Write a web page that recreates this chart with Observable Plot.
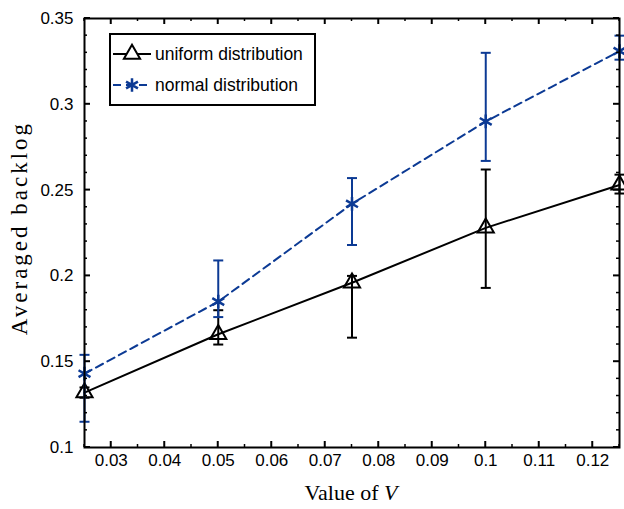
<!DOCTYPE html>
<html><head><meta charset="utf-8">
<script src="https://cdn.jsdelivr.net/npm/d3@7"></script>
<script src="https://cdn.jsdelivr.net/npm/@observablehq/plot@0.6"></script>
<style>
body{margin:0;background:#fff;}
#wrap{position:relative;width:624px;height:509px;overflow:hidden;background:#fff;}
#wrap svg{display:block;}
#overlay{position:absolute;left:0;top:0;pointer-events:none;}
</style></head><body><div id="wrap"></div>
<script>
// ---- data ----
const V = [0.025, 0.05, 0.075, 0.1, 0.125];
const uniformMean = [0.132, 0.166, 0.196, 0.228, 0.253];
const uniformLow  = [0.129, 0.160, 0.164, 0.193, 0.248];
const uniformHigh = [0.135, 0.180, 0.200, 0.262, 0.259];
const normalMean  = [0.143, 0.185, 0.242, 0.290, 0.331];
const normalLow   = [0.115, 0.176, 0.218, 0.267, 0.326];
const normalHigh  = [0.154, 0.209, 0.257, 0.330, 0.340];
const seriesNames = ["uniform distribution", "normal distribution"];
const xTicks = [0.03, 0.04, 0.05, 0.06, 0.07, 0.08, 0.09, 0.1, 0.11, 0.12];
const yTicks = [0.1, 0.15, 0.2, 0.25, 0.3, 0.35];
const xMinor = [0.025, 0.035, 0.045, 0.055, 0.065, 0.075, 0.085, 0.095, 0.105, 0.115, 0.125];
const yMinor = [0.11, 0.12, 0.13, 0.14, 0.16, 0.17, 0.18, 0.19, 0.21, 0.22, 0.23, 0.24,
                0.26, 0.27, 0.28, 0.29, 0.31, 0.32, 0.33, 0.34];
const xTitle = "Value of ";
const xTitleVar = "V";
const yTitle = "Averaged backlog";

const BLUE = "#0c3a94";
const uniformRows = V.map((v, i) => ({V: v, mean: uniformMean[i], low: uniformLow[i], high: uniformHigh[i]}));
const normalRows  = V.map((v, i) => ({V: v, mean: normalMean[i], low: normalLow[i], high: normalHigh[i]}));

const W = 624, H = 509, ML = 84, MR = 5, MT = 18, MB = 62;
const X_DOMAIN = [0.025, 0.125], Y_DOMAIN = [0.1, 0.35];

const cap = {draw(ctx, size) { const r = Math.sqrt(size / Math.PI); ctx.moveTo(-r, 0); ctx.lineTo(r, 0); }};

const plot = Plot.plot({
  width: W, height: H,
  marginLeft: ML, marginRight: MR, marginTop: MT, marginBottom: MB,
  x: {domain: X_DOMAIN},
  y: {domain: Y_DOMAIN},
  style: {fontFamily: '"Liberation Sans", Arial, sans-serif', fontSize: "17px", color: "black"},
  marks: [
    // tick labels
    Plot.axisX(xTicks, {anchor: "bottom", tickSize: 0, tickPadding: 6, label: null, tickFormat: d => String(d)}),
    Plot.axisY(yTicks, {anchor: "left", tickSize: 0, tickPadding: 11, label: null, tickFormat: d => String(d)}),
    // uniform
    Plot.line(uniformRows, {x: "V", y: "mean", stroke: "black", strokeWidth: 2}),
    Plot.ruleX(uniformRows, {x: "V", y1: "low", y2: "high", stroke: "black", strokeWidth: 2}),
    Plot.dot(uniformRows, {x: "V", y: "low", symbol: cap, r: 5, stroke: "black", strokeWidth: 2}),
    Plot.dot(uniformRows, {x: "V", y: "high", symbol: cap, r: 5, stroke: "black", strokeWidth: 2}),
    Plot.dot(uniformRows, {x: "V", y: "mean", symbol: "triangle", r: 6, stroke: "black", fill: "none", strokeWidth: 2}),
    // normal
    Plot.line(normalRows, {x: "V", y: "mean", stroke: BLUE, strokeWidth: 2, strokeDasharray: "8,5"}),
    Plot.ruleX(normalRows, {x: "V", y1: "low", y2: "high", stroke: BLUE, strokeWidth: 2}),
    Plot.dot(normalRows, {x: "V", y: "low", symbol: cap, r: 5, stroke: BLUE, strokeWidth: 2}),
    Plot.dot(normalRows, {x: "V", y: "high", symbol: cap, r: 5, stroke: BLUE, strokeWidth: 2}),
    Plot.dot(normalRows, {x: "V", y: "mean", symbol: "asterisk", r: 6.5, stroke: BLUE, strokeWidth: 2.5}),
    // box
    Plot.frame({stroke: "black", strokeWidth: 2})
  ]
});
const wrap = document.getElementById("wrap");
wrap.appendChild(plot);

// Plot's own scales, for the inward box ticks drawn on the overlay
let sx, sy;
try {
  const px = plot.scale("x"), py = plot.scale("y");
  sx = v => px.apply(v); sy = v => py.apply(v);
} catch (e) {
  sx = d3.scaleLinear().domain(X_DOMAIN).range([ML, W - MR]);
  sy = d3.scaleLinear().domain(Y_DOMAIN).range([H - MB, MT]);
}

const ov = d3.select(wrap).append("svg").attr("id", "overlay").attr("width", W).attr("height", H);

// inward ticks on all four sides (MATLAB box style)
const tg = ov.append("g").attr("stroke", "black");
function xTickMarks(ticks, len, sw) {
  ticks.forEach(v => {
    const x = sx(v);
    tg.append("line").attr("x1", x).attr("x2", x).attr("y1", H - MB).attr("y2", H - MB - len).attr("stroke-width", sw);
    tg.append("line").attr("x1", x).attr("x2", x).attr("y1", MT).attr("y2", MT + len).attr("stroke-width", sw);
  });
}
function yTickMarks(ticks, len, sw) {
  ticks.forEach(v => {
    const y = sy(v);
    tg.append("line").attr("y1", y).attr("y2", y).attr("x1", ML).attr("x2", ML + len).attr("stroke-width", sw);
    tg.append("line").attr("y1", y).attr("y2", y).attr("x1", W - MR).attr("x2", W - MR - len).attr("stroke-width", sw);
  });
}
xTickMarks(xMinor, 3, 1.5);
yTickMarks(yMinor, 3, 1.5);
xTickMarks(xTicks, 6, 2);
yTickMarks(yTicks, 6, 2);

// axis titles
const xt = ov.append("text").attr("x", 351).attr("y", 500).attr("text-anchor", "middle")
  .attr("font-family", '"Liberation Serif", "DejaVu Serif", serif').attr("font-size", 22);
xt.append("tspan").text(xTitle);
xt.append("tspan").attr("font-style", "italic").text(xTitleVar);
ov.append("text").attr("transform", "translate(27,228) rotate(-90)").attr("text-anchor", "middle")
  .attr("font-family", '"Liberation Serif", "DejaVu Serif", serif').attr("font-size", 23)
  .attr("letter-spacing", 3).text(yTitle);

// legend
const lg = ov.append("g");
lg.append("rect").attr("x", 110).attr("y", 34).attr("width", 205).attr("height", 71)
  .attr("fill", "white").attr("stroke", "black").attr("stroke-width", 2);
const rows = [
  {name: seriesNames[0], y: 54, stroke: "black", dash: null, sym: d3.symbolTriangle, size: Math.PI * 36, sw: 2},
  {name: seriesNames[1], y: 85, stroke: BLUE, dash: "8,5", sym: d3.symbolAsterisk, size: Math.PI * 42, sw: 2.5}
];
rows.forEach(r => {
  lg.append("line").attr("x1", 113).attr("x2", 151).attr("y1", r.y).attr("y2", r.y)
    .attr("stroke", r.stroke).attr("stroke-width", 2).attr("stroke-dasharray", r.dash);
  lg.append("path").attr("d", d3.symbol(r.sym, r.size)()).attr("transform", `translate(132,${r.y})`)
    .attr("fill", r.sym === d3.symbolTriangle ? "white" : "none").attr("stroke", r.stroke).attr("stroke-width", r.sw);
  lg.append("text").attr("x", 155).attr("y", r.y).attr("dy", "0.35em")
    .attr("font-family", '"Liberation Sans", Arial, sans-serif').attr("font-size", 17.5).text(r.name);
});
</script></body></html>
